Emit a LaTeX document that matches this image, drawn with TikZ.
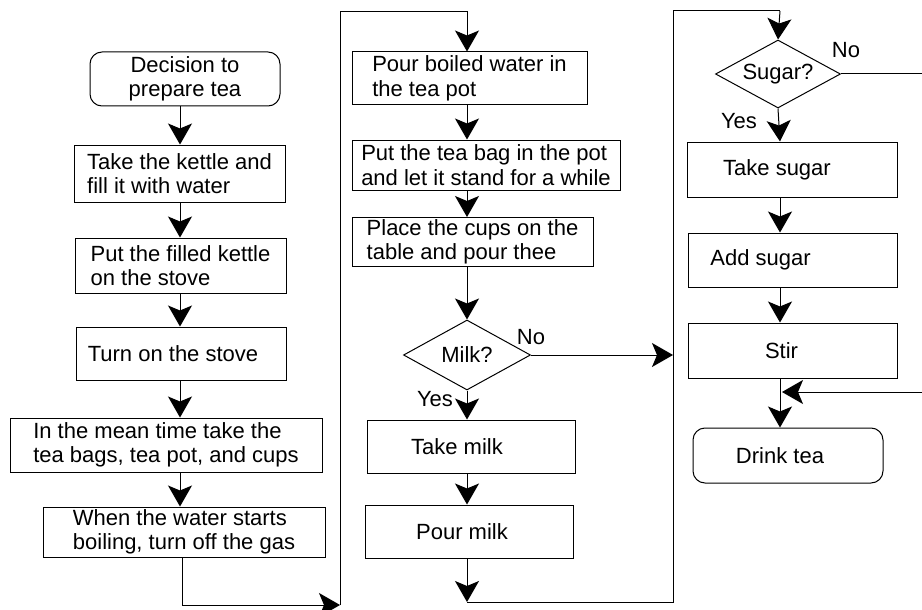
\documentclass[tikz,border=0pt]{standalone}
\usepackage{fontspec}
\setmainfont{Liberation Sans}
\usetikzlibrary{shapes.geometric,arrows.meta}
\newcommand\padr[1]{\rule{#1}{0pt}}
\begin{document}
\begin{tikzpicture}[x=1pt,y=-1pt,
  every node/.style={font=\fontsize{22}{24.5}\selectfont},
  proc/.style={draw, line width=1pt, rectangle, inner sep=2pt, align=left},
  procc/.style={draw, line width=1pt, rectangle, inner sep=2pt, align=center},
  term/.style={draw, line width=1pt, rectangle, rounded corners=12pt, align=center},
  dec/.style={draw, line width=1pt, diamond, aspect=1.8, inner sep=0pt},
  lab/.style={inner sep=0pt},
  arr/.style={line width=1pt, arrows={-Stealth[length=21pt, width=24pt, inset=5pt]}},
  ln/.style={line width=1pt}]
\fill[white] (0,0) rectangle (922,610);
\useasboundingbox (0,0) rectangle (922,610);

% column 1
\node[term, minimum width=190pt, minimum height=54pt] (start) at (185,79) {Decision to\\prepare tea};
\node[proc, minimum width=211pt, minimum height=57pt] (kettle) at (179.5,173.5) {Take the kettle and\\fill it with water};
\node[proc, minimum width=211pt, minimum height=55pt] (filled) at (180.5,265.5) {Put the filled kettle\\on the stove};
\node[procc, minimum width=210pt, minimum height=53pt] (stove) at (181,353.5) {Turn on the stove\padr{16pt}};
\node[proc, minimum width=312pt, minimum height=54pt] (mean) at (166,445) {In the mean time take the\\tea bags, tea pot, and cups};
\node[proc, minimum width=282pt, minimum height=50pt] (boil) at (184,532) {When the water starts\\boiling, turn off the gas};

% column 2
\node[proc, minimum width=235pt, minimum height=53pt] (pour) at (469.5,78.5) {Pour boiled water in\\the tea pot};
\node[proc, minimum width=268pt, minimum height=50pt] (bag) at (486,165) {Put the tea bag in the pot\\and let it stand for a while};
\node[proc, minimum width=241pt, minimum height=46pt] (cups) at (472.5,242) {Place the cups on the\\table and pour thee};
\node[dec, minimum width=127pt, minimum height=70pt] (milk) at (467,355) {Milk?};
\node[procc, minimum width=208pt, minimum height=53pt] (takemilk) at (471,446.5) {Take milk\padr{28pt}};
\node[procc, minimum width=208pt, minimum height=53pt] (pourmilk) at (469,531.5) {Pour milk\padr{14pt}};

% column 3
\node[dec, minimum width=125pt, minimum height=68pt] (sugar) at (778,74) {Sugar?};
\node[procc, minimum width=210pt, minimum height=55pt] (takesugar) at (792,169.5) {Take sugar\padr{30pt}};
\node[procc, minimum width=209pt, minimum height=54pt] (addsugar) at (792.5,260) {Add sugar\padr{64pt}};
\node[procc, minimum width=209pt, minimum height=55pt] (stir) at (792.5,350.5) {Stir\padr{22pt}};
\node[term, minimum width=190pt, minimum height=55pt] (drink) at (788,455.5) {Drink tea\padr{16pt}};

% labels
\node[lab] (milkno) at (531,337) {No};
\node[lab] (milkyes) at (435,399) {Yes};
\node[lab] (sugarno) at (846,50) {No};
\node[lab] (sugaryes) at (739,121) {Yes};

% helper coordinates
\coordinate (c1) at (180,0);
\coordinate (c2) at (467,0);
\coordinate (c3) at (780,0);
\coordinate (b1) at (182,605);
\coordinate (b2) at (340,605);
\coordinate (t1) at (340,12);
\coordinate (t2) at (467,12);
\coordinate (m1) at (673,355);
\coordinate (p1) at (467,602);
\coordinate (p2) at (673,602);
\coordinate (t3) at (673,11);
\coordinate (t4) at (780,11);
\coordinate (se) at (922,74);
\coordinate (ri) at (922,392);
\coordinate (rt) at (782,392);

% column 1 arrows
\draw[arr] (start.south -| c1) -- (kettle.north -| c1);
\draw[arr] (kettle.south -| c1) -- (filled.north -| c1);
\draw[arr] (filled.south -| c1) -- (stove.north -| c1);
\draw[arr] (stove.south -| c1) -- (mean.north -| c1);
\draw[arr] (mean.south -| c1) -- (boil.north -| c1);
\draw[arr] (boil.south -| b1) -- (b1) -- (b2);
\draw[arr] (b2) -- (t1) -- (t2) -- (pour.north -| t2);

% column 2 arrows
\draw[arr] (pour.south -| c2) -- (bag.north -| c2);
\draw[arr] (bag.south -| c2) -- (cups.north -| c2);
\draw[arr] (cups.south -| c2) -- (milk.north);
\draw[arr] (milk.south) -- (takemilk.north -| c2);
\draw[arr] (takemilk.south -| c2) -- (pourmilk.north -| c2);
\draw[arr] (pourmilk.south -| c2) -- (p1);
\draw[arr] (milk.east) -- (m1);
\draw[ln] (p1) -- (p2) -- (t3) -- (t4);
\draw[arr] (t4) -- (sugar.north);

% column 3 arrows
\draw[ln] (sugar.east) -- (se);
\draw[arr] (sugar.south) -- (takesugar.north -| c3);
\draw[arr] (takesugar.south -| c3) -- (addsugar.north -| c3);
\draw[arr] (addsugar.south -| c3) -- (stir.north -| c3);
\draw[arr] (stir.south -| c3) -- (drink.north -| c3);
\draw[arr] (ri) -- (rt);
\end{tikzpicture}
\end{document}
